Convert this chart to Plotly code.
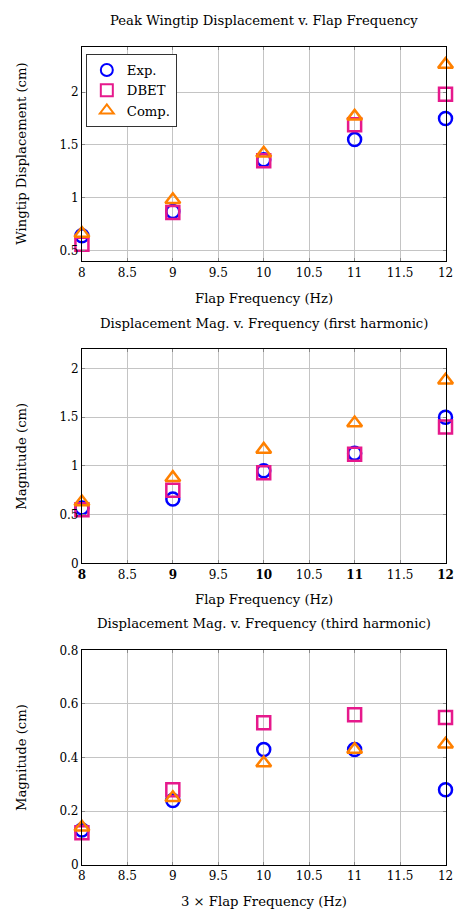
import plotly.graph_objects as go

freq = [8, 9, 10, 11, 12]

# Panel 1: Peak wingtip displacement (cm)
peak_exp = [0.64, 0.87, 1.36, 1.55, 1.75]
peak_dbet = [0.56, 0.86, 1.35, 1.69, 1.98]
peak_comp = [0.66, 0.98, 1.42, 1.77, 2.26]

# Panel 2: first harmonic magnitude (cm)
h1_exp = [0.57, 0.66, 0.95, 1.13, 1.50]
h1_dbet = [0.55, 0.75, 0.93, 1.12, 1.40]
h1_comp = [0.63, 0.88, 1.17, 1.44, 1.88]

# Panel 3: third harmonic magnitude (cm)
h3_exp = [0.13, 0.24, 0.43, 0.43, 0.28]
h3_dbet = [0.12, 0.28, 0.53, 0.56, 0.55]
h3_comp = [0.14, 0.25, 0.38, 0.43, 0.45]

series_names = ["Exp.", "DBET", "Comp."]
titles = [
    "Peak Wingtip Displacement v. Flap Frequency",
    "Displacement Mag. v. Frequency (first harmonic)",
    "Displacement Mag. v. Frequency (third harmonic)",
]
xtitles = ["Flap Frequency (Hz)", "Flap Frequency (Hz)", "3 \u00d7 Flap Frequency (Hz)"]
ytitles = ["Wingtip Displacement (cm)", "Magnitude (cm)", "Magnitude (cm)"]

xtick_vals = [8, 8.5, 9, 9.5, 10, 10.5, 11, 11.5, 12]
xtick_text = ["8", "8.5", "9", "9.5", "10", "10.5", "11", "11.5", "12"]
xtick_text_bold = ["<b>8</b>", "8.5", "<b>9</b>", "9.5", "<b>10</b>", "10.5", "<b>11</b>", "11.5", "<b>12</b>"]

y1_ticks = [0.5, 1, 1.5, 2]
y1_text = ["0.5", "1", "1.5", "2"]
y2_ticks = [0, 0.5, 1, 1.5, 2]
y2_text = ["0", "0.5", "1", "1.5", "2"]
y3_ticks = [0, 0.2, 0.4, 0.6, 0.8]
y3_text = ["0", "0.2", "0.4", "0.6", "0.8"]

W, H = 462, 923
FONT = "DejaVu Serif"
TXT = 13.2
TICK = 12
BLUE = "#0000ff"
PINK = "#e6198c"
ORANGE = "#ff8000"

styles = [
    dict(symbol="circle-open", color=BLUE, size=13),
    dict(symbol="square-open", color=PINK, size=13),
    dict(symbol="triangle-up-open", color=ORANGE, size=13),
]

panels = [
    dict(data=[peak_exp, peak_dbet, peak_comp], yr=[0.397, 2.426], yt=(y1_ticks, y1_text),
         xt=xtick_text, top=40.7, bot=258.3, title_y=14, xtitle_y=296),
    dict(data=[h1_exp, h1_dbet, h1_comp], yr=[0, 2.2], yt=(y2_ticks, y2_text),
         xt=xtick_text_bold, top=347.3, bot=565, title_y=321, xtitle_y=602),
    dict(data=[h3_exp, h3_dbet, h3_comp], yr=[0, 0.8], yt=(y3_ticks, y3_text),
         xt=xtick_text, top=653.3, bot=871, title_y=626, xtitle_y=908),
]

x0, x1 = 80, 453.3

fig = go.Figure()
layout = dict(
    width=W, height=H, margin=dict(l=0, r=0, t=0, b=0),
    paper_bgcolor="white", plot_bgcolor="white",
    font=dict(family=FONT, size=TXT, color="black"),
    showlegend=True,
    legend=dict(x=84 / W, y=1 - 47.7 / H, xanchor="left", yanchor="top",
                bgcolor="white", bordercolor="#333333", borderwidth=1,
                font=dict(family=FONT, size=TXT), tracegroupgap=0, itemsizing="constant"),
)
annotations = []

for i, p in enumerate(panels):
    k = "" if i == 0 else str(i + 1)
    xa = "x" + k
    ya = "y" + k
    for j, vals in enumerate(p["data"]):
        st = styles[j]
        fig.add_trace(go.Scatter(
            x=freq, y=vals, mode="markers", name=series_names[j],
            xaxis=xa, yaxis=ya, showlegend=(i == 0), cliponaxis=False,
            marker=dict(symbol=st["symbol"], size=st["size"], color=st["color"],
                        line=dict(color=st["color"], width=2.5)),
        ))
    dom_y = [1 - p["bot"] / H, 1 - p["top"] / H]
    layout["xaxis" + k] = dict(
        domain=[x0 / W, x1 / W], range=[8, 12], anchor=ya,
        tickvals=xtick_vals, ticktext=p["xt"], showgrid=True, gridcolor="#c4c4c4", gridwidth=1,
        showline=True, linecolor="black", linewidth=1, mirror="ticks",
        ticks="inside", ticklen=3, tickcolor="#888888", zeroline=False,
        tickfont=dict(family=FONT, size=TICK), fixedrange=True,
    )
    layout["yaxis" + k] = dict(
        domain=dom_y, range=p["yr"], anchor=xa,
        tickvals=p["yt"][0], ticktext=p["yt"][1], showgrid=True, gridcolor="#c4c4c4", gridwidth=1,
        showline=True, linecolor="black", linewidth=1, mirror="ticks",
        ticks="inside", ticklen=3, tickcolor="#888888", zeroline=False,
        tickfont=dict(family=FONT, size=TICK), fixedrange=True,
    )
    annotations.append(dict(text=titles[i], x=(x0 + x1) / 2 / W, y=1 - p["title_y"] / H,
                            xref="paper", yref="paper", xanchor="center", yanchor="middle",
                            showarrow=False, font=dict(family=FONT, size=TXT)))
    annotations.append(dict(text=xtitles[i], x=(x0 + x1) / 2 / W, y=1 - p["xtitle_y"] / H,
                            xref="paper", yref="paper", xanchor="center", yanchor="middle",
                            showarrow=False, font=dict(family=FONT, size=TXT)))
    annotations.append(dict(text=ytitles[i], x=18 / W, y=1 - (p["top"] + p["bot"]) / 2 / H,
                            xref="paper", yref="paper", xanchor="center", yanchor="middle",
                            textangle=-90, showarrow=False, font=dict(family=FONT, size=TXT)))

layout["annotations"] = annotations
fig.update_layout(**layout)
fig.write_html("out.html")
